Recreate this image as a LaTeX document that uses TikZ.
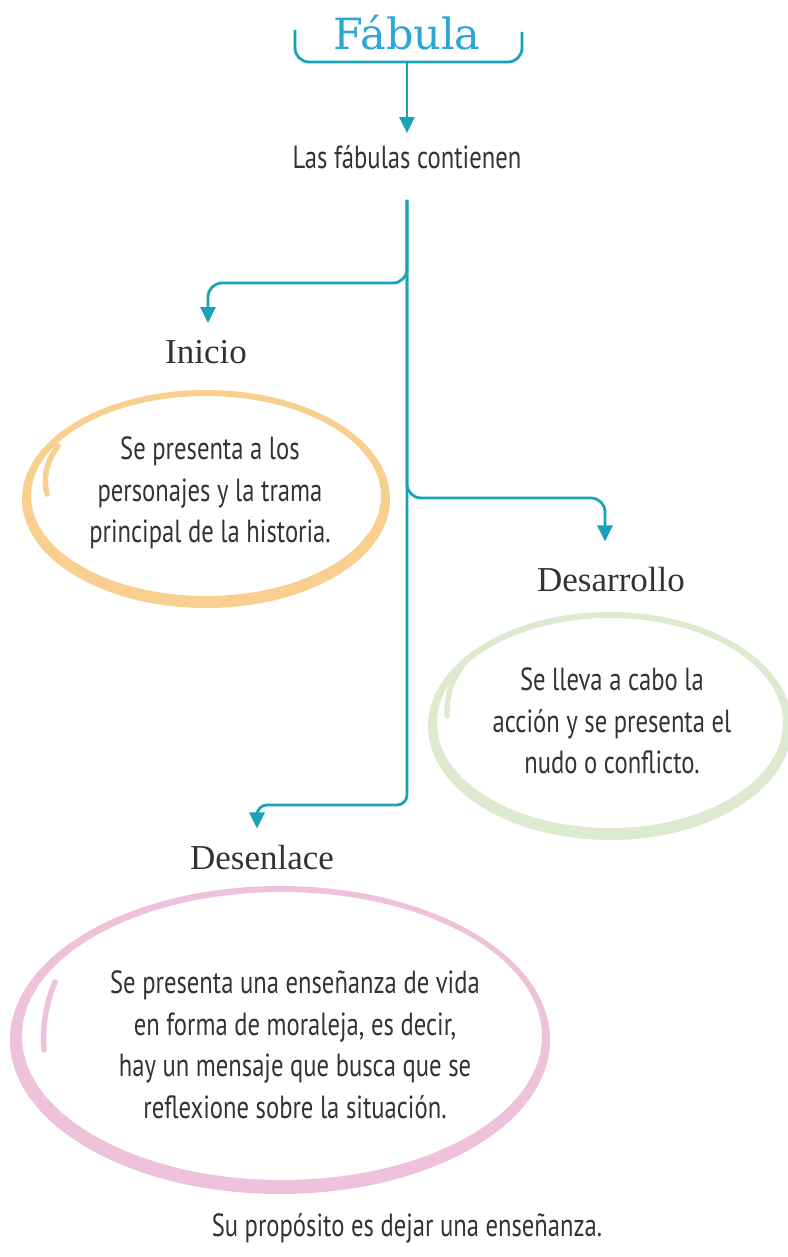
\documentclass[tikz,border=0pt]{standalone}
\usepackage{fontspec}
\setmainfont{PT Sans}[FakeStretch=0.77]
\newfontfamily\titlefont{DejaVu Serif}
\newfontfamily\headfont{Liberation Serif}
\usetikzlibrary{arrows.meta}
\definecolor{teal}{HTML}{1AA3B8}
\definecolor{titlecol}{HTML}{2BA6D9}
\definecolor{txt}{HTML}{333333}
\definecolor{orangec}{HTML}{F8CF8E}
\definecolor{greenc}{HTML}{DEEAD0}
\definecolor{pinkc}{HTML}{EFC2DB}
\tikzset{
  conn/.style={draw=teal,line width=2.8pt,rounded corners=14pt,-{Triangle[width=15pt,length=16pt]}},
  brack/.style={draw=teal,line width=2.8pt,rounded corners=14pt},
  body/.style={text=txt,align=center,font=\fontsize{32}{41.5}\selectfont,inner sep=0pt},
  head/.style={text=txt,font=\headfont\fontsize{35}{38}\selectfont,inner sep=0pt},
  tail/.style={line width=5.5pt,line cap=round},
}
\begin{document}
\begin{tikzpicture}[x=1pt,y=-1pt]
\useasboundingbox (0,0) rectangle (787,1257);
% title and bracket
\node[text=titlecol,font=\titlefont\fontsize{43}{48}\selectfont,inner sep=0pt] (title) at (407,33) {Fábula};
\draw[brack] (295,30) -- (295,62) -- (522,62) -- (522,32);
\coordinate (b0) at (407,62);
\node[body] (las) at (407,157) {Las fábulas contienen};
\draw[conn] (b0) -- ([yshift=12pt]las.north);
% ellipses
\fill[orangec,even odd rule] (206,499) ellipse[x radius=184pt,y radius=109pt] (206,496) ellipse[x radius=175pt,y radius=100pt];
\draw[orangec,tail] (58,446) .. controls (46,462) and (43,478) .. (47,494);
\fill[greenc,even odd rule] (610,726) ellipse[x radius=182pt,y radius=114pt] (610,723) ellipse[x radius=173pt,y radius=105pt];
\draw[greenc,tail] (462,666) .. controls (452,680) and (446,697) .. (447,716);
\fill[pinkc,even odd rule] (280,1040) ellipse[x radius=270pt,y radius=154pt] (282,1036) ellipse[x radius=260pt,y radius=144pt];
\draw[pinkc,tail] (55,982) .. controls (47,1000) and (42,1025) .. (44,1050);
% headings
\node[head] (inicio) at (206,352) {Inicio};
\node[head] (desarrollo) at (611,580) {Desarrollo};
\node[head] (desenlace) at (262,858) {Desenlace};
% texts
\node[body] (tI) at (210,493) {Se presenta a los\\personajes y la trama\\principal de la historia.};
\node[body] (tD) at (612,721) {Se lleva a cabo la\\acción y se presenta el\\nudo o conflicto.};
\node[body] (tE) at (295,1045) {Se presenta una enseñanza de vida\\en forma de moraleja, es decir,\\hay un mensaje que busca que se\\reflexione sobre la situación.};
\node[body] (bottom) at (407,1228) {Su propósito es dejar una enseñanza.};
% connectors
\coordinate (t0) at (407,200);
\draw[conn] (t0) -- (407,283) -| ([xshift=2pt,yshift=17pt]inicio.north);
\draw[conn] (t0) -- (407,498) -| ([xshift=-6pt,yshift=26pt]desarrollo.north);
\draw[conn,rounded corners=10pt] (t0) -- (407,805) -| ([xshift=-5pt,yshift=17pt]desenlace.north);
\end{tikzpicture}
\end{document}
